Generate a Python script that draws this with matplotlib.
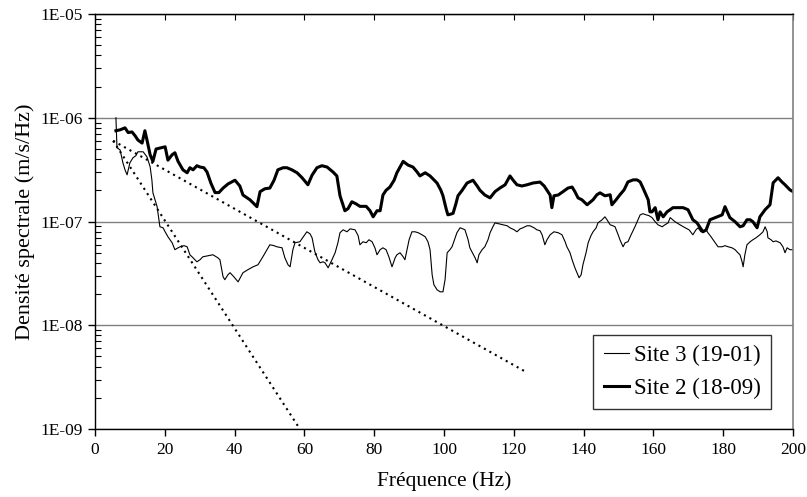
import matplotlib
matplotlib.use("Agg")
import matplotlib.pyplot as plt
from matplotlib.ticker import FixedLocator, FuncFormatter, LogLocator, NullFormatter
import numpy as np

plt.rcParams['font.family'] = ['Liberation Serif', 'DejaVu Serif']

# Site 2 (18-09) - courbe épaisse
freq_s2 = [6.0, 7.2, 8.6, 9.5, 10.6, 11.5, 12.3, 13.5, 14.3, 14.9, 15.8, 16.6, 17.5, 18.6,
           20.1, 20.9, 22.1, 22.9, 23.8, 25.2, 26.4, 27.2, 28.1, 29.2, 30.1, 31.2, 32.1, 33.2,
           34.4, 35.5, 36.7, 38.1, 40.1, 41.5, 42.4, 44.4, 46.4, 47.3, 48.7, 50.1, 51.3, 52.4,
           53.9, 55.0, 56.4, 57.9, 59.3, 61.0, 62.2, 63.6, 65.0, 66.5, 68.2, 69.3, 70.2, 71.6,
           72.5, 73.6, 74.8, 75.9, 77.7, 78.8, 79.7, 80.8, 81.7, 82.5, 83.4, 84.5, 85.7, 86.5,
           88.3, 89.7, 91.1, 92.3, 93.1, 94.6, 96.0, 98.0, 99.1, 99.7, 100.6, 101.1, 102.0,
           102.6, 103.4, 104.0, 105.2, 106.6, 108.3, 109.5, 110.3, 111.7, 113.2, 114.6, 116.0,
           117.5, 118.9, 119.8, 120.9, 122.3, 123.8, 125.5, 127.5, 128.7, 129.5, 130.4, 130.9,
           131.5, 132.7, 134.1, 135.5, 136.7, 137.5, 138.4, 139.5, 141.0, 142.7, 143.8, 144.7,
           146.1, 147.6, 148.1, 149.3, 150.4, 151.6, 152.7, 154.2, 155.3, 156.2, 157.0, 158.5,
           159.0, 159.6, 160.5, 161.3, 161.9, 162.8, 163.9, 164.8, 165.6, 167.0, 168.5, 169.9,
           171.3, 172.5, 173.4, 174.2, 175.1, 176.2, 177.4, 178.2, 179.7, 180.5, 181.4, 181.9,
           183.4, 184.8, 185.7, 186.8, 187.7, 188.5, 189.7, 190.5, 192.0, 193.4, 194.3, 195.7,
           196.8, 197.7, 199.1, 200.0]
dsp_s2 = [7.5e-7, 7.65e-7, 8.0e-7, 7.2e-7, 7.3e-7, 6.7e-7, 6.1e-7, 5.7e-7, 7.5e-7, 6.1e-7,
          4.4e-7, 3.8e-7, 5.0e-7, 5.1e-7, 5.25e-7, 3.9e-7, 4.4e-7, 4.6e-7, 3.8e-7, 3.15e-7,
          2.95e-7, 3.3e-7, 3.15e-7, 3.45e-7, 3.35e-7, 3.3e-7, 3.0e-7, 2.35e-7, 1.9e-7, 1.9e-7,
          2.1e-7, 2.3e-7, 2.5e-7, 2.2e-7, 1.8e-7, 1.62e-7, 1.39e-7, 1.94e-7, 2.07e-7, 2.1e-7,
          2.5e-7, 3.15e-7, 3.3e-7, 3.3e-7, 3.15e-7, 2.95e-7, 2.65e-7, 2.26e-7, 2.8e-7, 3.3e-7,
          3.45e-7, 3.35e-7, 3.0e-7, 2.75e-7, 1.77e-7, 1.27e-7, 1.33e-7, 1.55e-7, 1.48e-7, 1.4e-7,
          1.4e-7, 1.27e-7, 1.11e-7, 1.27e-7, 1.27e-7, 1.8e-7, 2.0e-7, 2.15e-7, 2.5e-7, 2.95e-7,
          3.8e-7, 3.5e-7, 3.35e-7, 3.0e-7, 2.75e-7, 2.95e-7, 2.75e-7, 2.35e-7, 2.0e-7, 1.77e-7,
          1.33e-7, 1.16e-7, 1.18e-7, 1.2e-7, 1.48e-7, 1.77e-7, 2.0e-7, 2.35e-7, 2.5e-7, 2.2e-7,
          2.0e-7, 1.8e-7, 1.69e-7, 1.94e-7, 2.1e-7, 2.26e-7, 2.75e-7, 2.5e-7, 2.26e-7, 2.2e-7,
          2.26e-7, 2.35e-7, 2.4e-7, 2.2e-7, 2.0e-7, 1.8e-7, 1.36e-7, 1.77e-7, 1.8e-7, 1.94e-7,
          2.1e-7, 2.15e-7, 1.94e-7, 1.69e-7, 1.62e-7, 1.45e-7, 1.62e-7, 1.81e-7, 1.89e-7,
          1.77e-7, 1.81e-7, 1.45e-7, 1.62e-7, 1.81e-7, 2.02e-7, 2.41e-7, 2.52e-7, 2.52e-7,
          2.41e-7, 2.11e-7, 1.62e-7, 1.24e-7, 1.24e-7, 1.36e-7, 1.04e-7, 1.24e-7, 1.11e-7,
          1.24e-7, 1.30e-7, 1.36e-7, 1.36e-7, 1.36e-7, 1.30e-7, 1.04e-7, 9.7e-8, 8.7e-8, 7.96e-8,
          8.3e-8, 1.04e-7, 1.08e-7, 1.11e-7, 1.16e-7, 1.39e-7, 1.19e-7, 1.09e-7, 9.95e-8, 8.9e-8,
          9.1e-8, 1.04e-7, 1.04e-7, 9.95e-8, 8.7e-8, 1.11e-7, 1.30e-7, 1.45e-7, 2.36e-7, 2.64e-7,
          2.41e-7, 2.26e-7, 2.02e-7, 1.94e-7]

# Site 3 (19-01) - courbe fine
freq_s3 = [6.0, 6.3, 7.2, 8.0, 8.6, 9.2, 10.0, 10.9, 11.7, 12.3, 13.8, 14.9, 15.8, 16.3, 16.6,
           17.2, 17.8, 18.3, 18.6, 19.5, 20.1, 20.9, 22.1, 22.9, 23.8, 24.4, 25.5, 26.4, 27.2,
           28.1, 29.2, 30.1, 30.9, 32.4, 33.8, 35.2, 35.8, 36.7, 37.2, 38.1, 38.7, 39.8, 41.0,
           42.4, 43.8, 45.3, 46.7, 48.1, 49.3, 50.1, 51.3, 52.1, 53.6, 54.4, 55.3, 55.9, 56.7,
           57.3, 58.7, 59.9, 60.7, 61.6, 62.2, 63.0, 63.9, 64.5, 65.3, 65.9, 66.8, 67.9, 68.8,
           69.6, 70.2, 71.1, 72.2, 73.1, 74.5, 75.4, 75.9, 76.8, 77.7, 78.5, 79.4, 80.2, 80.8,
           81.7, 82.5, 83.4, 84.2, 85.1, 86.0, 86.5, 87.4, 88.3, 88.8, 90.0, 90.8, 91.7, 92.6,
           93.7, 94.6, 95.4, 96.0, 96.6, 97.1, 98.0, 98.9, 99.7, 100.3, 100.9, 101.7, 102.3,
           103.2, 103.7, 104.6, 105.4, 106.0, 106.9, 107.4, 108.0, 108.9, 109.5, 110.0, 110.9,
           111.7, 112.6, 113.2, 114.0, 114.6, 115.8, 116.9, 118.1, 118.9, 120.1, 120.9, 121.8,
           122.6, 123.8, 124.6, 125.8, 126.6, 127.5, 128.1, 128.9, 129.5, 130.4, 131.5, 132.7,
           133.8, 134.7, 135.2, 136.1, 136.7, 137.5, 138.1, 138.7, 139.3, 139.8, 140.7, 141.3,
           142.1, 142.7, 143.6, 144.1, 145.3, 146.1, 146.7, 147.6, 148.4, 149.0, 149.9, 150.4,
           151.3, 151.9, 152.7, 153.6, 154.7, 155.6, 156.2, 157.0, 157.9, 158.7, 159.6, 160.5,
           161.3, 162.5, 163.3, 164.2, 164.8, 166.2, 167.6, 169.1, 170.2, 171.3, 172.2, 172.8,
           173.6, 174.2, 175.1, 175.6, 176.5, 177.1, 177.9, 178.5, 179.7, 180.5, 181.4, 182.5,
           183.4, 184.2, 184.8, 185.4, 185.7, 186.2, 186.8, 187.7, 188.5, 189.4, 190.5, 191.4,
           192.0, 192.6, 192.8, 193.7, 194.3, 195.1, 196.3, 197.1, 197.7, 198.3, 199.1, 200.0]
dsp_s3 = [1.0e-6, 5.14e-7, 4.9e-7, 3.68e-7, 3.15e-7, 2.82e-7, 3.68e-7, 4.12e-7, 4.3e-7, 4.7e-7,
          4.7e-7, 4.2e-7, 3.37e-7, 2.52e-7, 1.89e-7, 1.62e-7, 1.39e-7, 1.04e-7, 8.9e-8, 8.7e-8,
          7.96e-8, 7.13e-8, 6.24e-8, 5.35e-8, 5.58e-8, 5.71e-8, 5.85e-8, 5.71e-8, 4.78e-8,
          4.47e-8, 4.09e-8, 4.28e-8, 4.57e-8, 4.68e-8, 4.78e-8, 4.47e-8, 4.28e-8, 2.93e-8,
          2.75e-8, 3.07e-8, 3.21e-8, 2.93e-8, 2.62e-8, 3.21e-8, 3.43e-8, 3.66e-8, 3.83e-8,
          4.57e-8, 5.35e-8, 5.97e-8, 5.85e-8, 5.71e-8, 5.58e-8, 4.47e-8, 3.83e-8, 3.66e-8,
          5.35e-8, 6.24e-8, 6.38e-8, 7.3e-8, 7.96e-8, 7.62e-8, 6.97e-8, 5.11e-8, 4.28e-8, 4.0e-8,
          4.09e-8, 4.0e-8, 3.58e-8, 4.28e-8, 5.0e-8, 6.24e-8, 7.8e-8, 8.32e-8, 7.96e-8, 8.5e-8,
          8.32e-8, 7.3e-8, 5.97e-8, 6.38e-8, 6.24e-8, 6.67e-8, 6.38e-8, 5.58e-8, 4.78e-8,
          5.35e-8, 5.58e-8, 5.35e-8, 4.57e-8, 3.66e-8, 4.47e-8, 4.78e-8, 5.0e-8, 4.57e-8, 4.28e-8,
          6.67e-8, 7.96e-8, 7.96e-8, 7.8e-8, 7.45e-8, 7.13e-8, 6.38e-8, 5.35e-8, 3.07e-8, 2.46e-8,
          2.2e-8, 2.1e-8, 2.1e-8, 2.75e-8, 5.0e-8, 5.35e-8, 5.71e-8, 6.97e-8, 7.8e-8, 8.7e-8,
          8.5e-8, 8.32e-8, 6.67e-8, 5.58e-8, 5.11e-8, 4.47e-8, 4.0e-8, 4.78e-8, 5.35e-8, 5.71e-8,
          6.67e-8, 7.8e-8, 8.9e-8, 9.7e-8, 9.5e-8, 9.3e-8, 9.1e-8, 8.7e-8, 8.32e-8, 7.96e-8,
          8.5e-8, 8.7e-8, 9.1e-8, 9.1e-8, 8.7e-8, 8.32e-8, 8.15e-8, 7.45e-8, 5.97e-8, 6.67e-8,
          7.45e-8, 7.96e-8, 7.8e-8, 7.45e-8, 6.38e-8, 5.71e-8, 5.0e-8, 4.28e-8, 3.58e-8, 3.21e-8,
          2.87e-8, 3.07e-8, 3.83e-8, 5.0e-8, 6.24e-8, 7.3e-8, 7.96e-8, 8.7e-8, 9.7e-8, 1.04e-7,
          1.11e-7, 1.04e-7, 9.3e-8, 9.1e-8, 8.9e-8, 7.45e-8, 6.67e-8, 5.71e-8, 6.24e-8, 6.38e-8,
          7.45e-8, 8.9e-8, 1.04e-7, 1.16e-7, 1.19e-7, 1.16e-7, 1.14e-7, 1.09e-7, 9.95e-8, 9.3e-8,
          8.9e-8, 9.3e-8, 9.7e-8, 1.09e-7, 9.95e-8, 9.3e-8, 8.7e-8, 8.32e-8, 7.45e-8, 8.32e-8,
          8.7e-8, 7.96e-8, 7.96e-8, 8.32e-8, 7.8e-8, 7.13e-8, 6.67e-8, 6.1e-8, 5.71e-8, 5.71e-8,
          5.85e-8, 5.71e-8, 5.58e-8, 5.35e-8, 5.0e-8, 4.78e-8, 4.09e-8, 3.66e-8, 4.78e-8, 5.97e-8,
          6.38e-8, 6.67e-8, 6.97e-8, 7.45e-8, 7.96e-8, 8.9e-8, 7.96e-8, 6.97e-8, 6.67e-8, 6.38e-8,
          6.5e-8, 6.24e-8, 5.71e-8, 5.0e-8, 5.58e-8, 5.35e-8, 5.35e-8]

# Droites de tendance (pointillés)
trend1_f = [5.2, 123.8]
trend1_v = [6.0e-7, 3.5e-9]
trend2_f = [5.2, 58.7]
trend2_v = [6.0e-7, 1.0e-9]

fig = plt.figure(figsize=(8.07, 4.97), dpi=100)
ax = fig.add_axes([0.1177, 0.1368, 0.8650, 0.835])

ax.plot(freq_s3, dsp_s3, color='black', lw=0.8, label='Site 3 (19-01)')
ax.plot(freq_s2, dsp_s2, color='black', lw=2.2, label='Site 2 (18-09)')
ax.plot(trend1_f, trend1_v, color='black', lw=1.5, ls=(0, (1, 2)))
ax.plot(trend2_f, trend2_v, color='black', lw=1.5, ls=(0, (1, 2)))

ax.set_yscale('log')
ax.set_xlim(0, 200)
ax.set_ylim(1e-9, 1e-5)

xticks = list(range(0, 201, 20))
ax.xaxis.set_major_locator(FixedLocator(xticks))
ax.yaxis.set_major_locator(LogLocator(base=10, numticks=10))
ax.yaxis.set_minor_locator(LogLocator(base=10, subs=np.arange(2, 10), numticks=50))
ax.yaxis.set_minor_formatter(NullFormatter())
ax.yaxis.set_major_formatter(FuncFormatter(lambda v, p: "1E-%02d" % round(-np.log10(v))))

ax.yaxis.grid(True, which='major', color='#808080', lw=1.0)
ax.set_axisbelow(True)

ax.tick_params(axis='both', which='major', direction='out', length=5, width=1, labelsize=12.5, pad=4)
ax.tick_params(axis='y', which='minor', direction='in', length=4, width=0.8)

# petites graduations vers l'intérieur sur le bord supérieur
top = ax.secondary_xaxis('top')
top.set_xticks(xticks)
top.tick_params(direction='in', length=4, width=0.8, labeltop=False)
top.spines['top'].set_linewidth(1.0)

for side in ['left', 'bottom']:
    ax.spines[side].set_color('black')
    ax.spines[side].set_linewidth(1.0)
ax.spines['right'].set_color('#808080')
ax.spines['right'].set_linewidth(1.2)

ax.set_xlabel('Fréquence (Hz)', fontsize=15.5, labelpad=10)
ax.set_ylabel('Densité spectrale (m/s/Hz)', fontsize=16, labelpad=4)

leg = ax.legend(loc='lower right', bbox_to_anchor=(0.968, 0.048), fontsize=16.5,
                frameon=True, fancybox=False, edgecolor='black', handlelength=1.1,
                handletextpad=0.2, borderpad=0.45, labelspacing=0.5, borderaxespad=0)
leg.get_frame().set_linewidth(1.0)

plt.savefig('out.png', dpi=100)
